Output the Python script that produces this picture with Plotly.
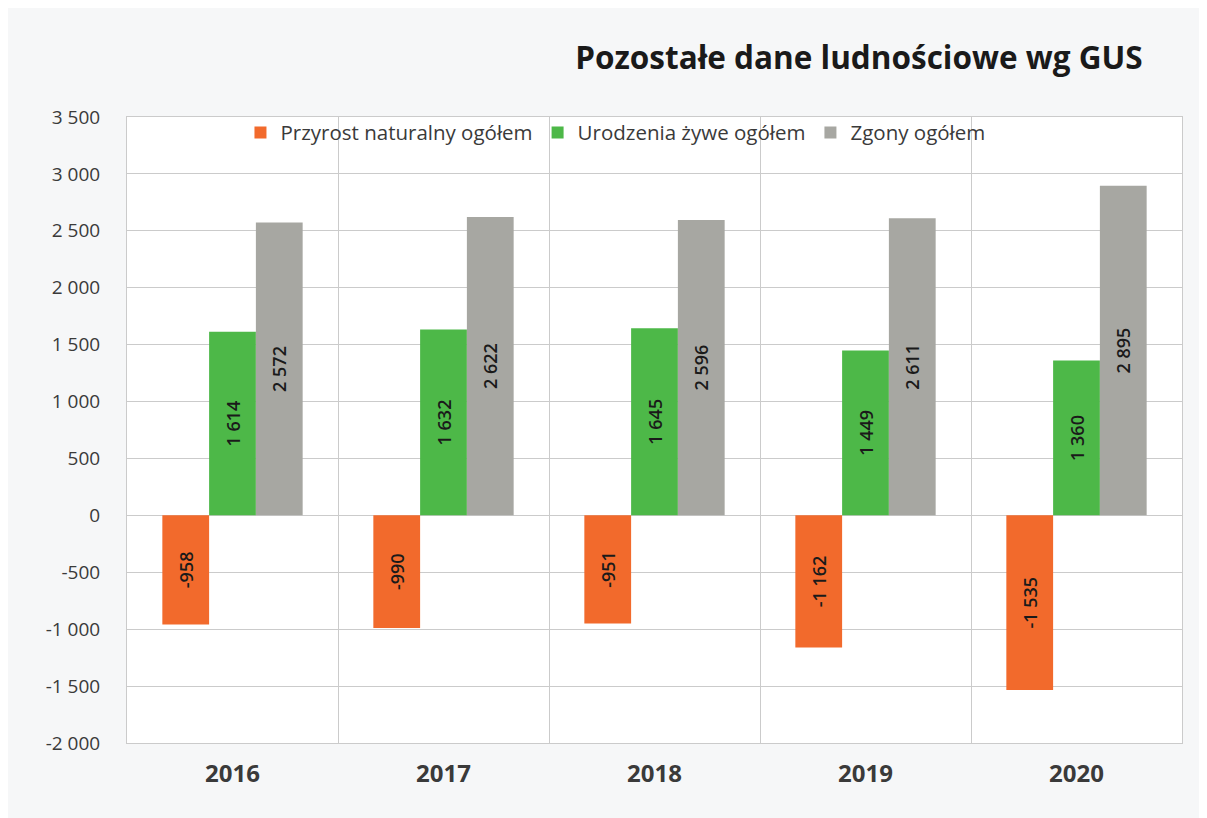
import plotly.graph_objects as go

years = ["2016", "2017", "2018", "2019", "2020"]
przyrost = [-958, -990, -951, -1162, -1535]
urodzenia = [1614, 1632, 1645, 1449, 1360]
zgony = [2572, 2622, 2596, 2611, 2895]

y_ticks = [-2000, -1500, -1000, -500, 0, 500, 1000, 1500, 2000, 2500, 3000, 3500]
y_ticktext = ["-2 000", "-1 500", "-1 000", "-500", "0", "500", "1 000",
              "1 500", "2 000", "2 500", "3 000", "3 500"]


def fmt(v):
    s = f"{abs(v):,}".replace(",", " ")
    return ("-" if v < 0 else "") + s


series = [
    ("Przyrost naturalny ogółem", przyrost, "#F26A2C"),
    ("Urodzenia żywe ogółem", urodzenia, "#4DB848"),
    ("Zgony ogółem", zgony, "#A7A7A2"),
]

fig = go.Figure()
for name, vals, color in series:
    fig.add_trace(go.Bar(
        x=years, y=vals, name=name,
        marker=dict(color=color, line=dict(width=0)),
        text=[fmt(v) for v in vals],
        textposition="inside", insidetextanchor="middle",
        textangle=-90,
        textfont=dict(family="Open Sans, sans-serif", size=18, color="#1a1a1a",
                      weight=600),
        hoverinfo="x+y",
    ))

fig.update_layout(
    width=1207, height=818,
    barmode="group", bargap=0.335, bargroupgap=0,
    paper_bgcolor="#f6f7f8", plot_bgcolor="#ffffff",
    margin=dict(l=119, r=33, t=109, b=83),
    font=dict(family="Open Sans, sans-serif", color="#3a3a3a"),
    title=dict(
        text="<b>Pozostałe dane ludnościowe wg GUS</b>",
        x=0.705, xanchor="center", y=0.939, yanchor="middle",
        font=dict(size=31.5, color="#1a1a1a"),
    ),
    legend=dict(
        orientation="h", x=0.463, xanchor="center", y=0.975, yanchor="middle",
        bgcolor="rgba(0,0,0,0)", font=dict(size=20.5, color="#3a3a3a"),
        itemwidth=30, traceorder="normal",
    ),
    xaxis=dict(
        type="category", tickson="boundaries", showgrid=True,
        gridcolor="#cbcbcb", gridwidth=1, ticks="",
        tickfont=dict(size=24, color="#3a3a3a", weight="bold"),
        showline=True, linecolor="#cbcbcb", mirror=True,
        ticklabelstandoff=9,
    ),
    yaxis=dict(
        range=[-2000, 3500], tickvals=y_ticks, ticktext=y_ticktext,
        showgrid=True, gridcolor="#cbcbcb", gridwidth=1,
        zeroline=True, zerolinecolor="#cbcbcb", zerolinewidth=1,
        showline=True, linecolor="#cbcbcb", mirror=True,
        tickfont=dict(size=19, color="#3a3a3a"),
        ticklabelstandoff=22,
    ),
)

fig.write_html("out.html")
